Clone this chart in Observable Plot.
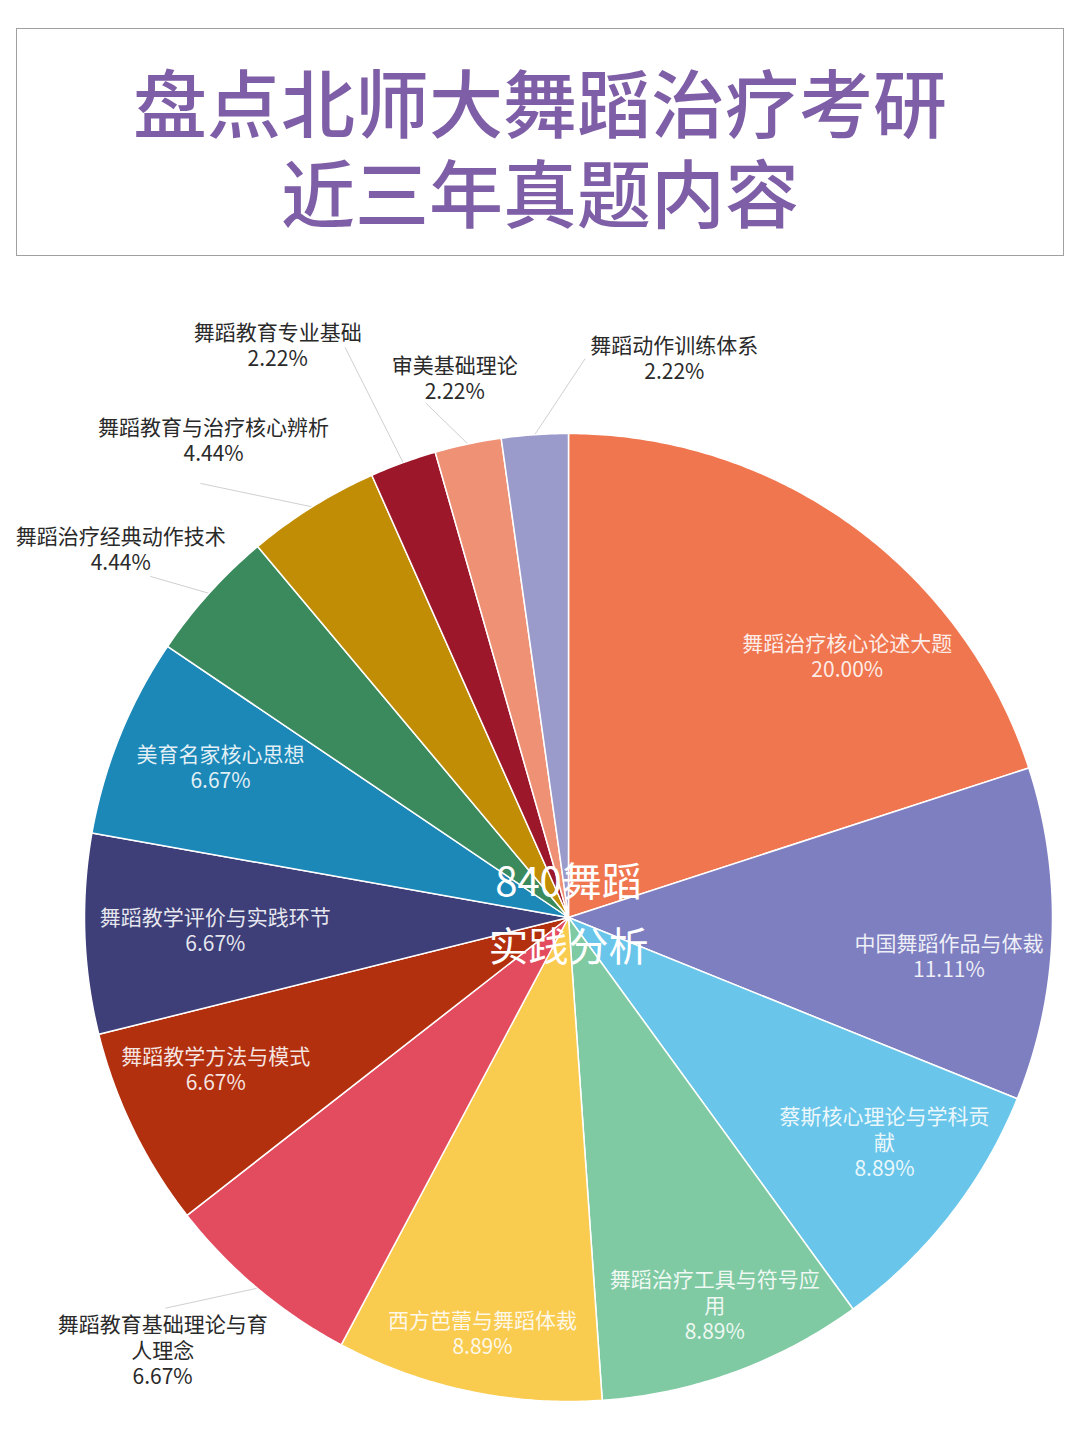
<!DOCTYPE html>
<html>
<head>
<meta charset="utf-8">
<script src="https://cdn.jsdelivr.net/npm/d3@7"></script>
<script src="https://cdn.jsdelivr.net/npm/@observablehq/plot@0.6"></script>
<style>
  html, body { margin: 0; padding: 0; background: #fff; width: 1080px; height: 1440px; overflow: hidden; }
  body { position: relative; font-family: "Noto Sans CJK SC", "Noto Sans", sans-serif; }
  #title {
    position: absolute; left: 16px; top: 28px; width: 1046px; height: 226px;
    border: 1.5px solid #a0a0a0; box-sizing: content-box;
    text-align: center; color: #7e5ea6; font-weight: 500;
    font-size: 74px; line-height: 90px;
  }
  #title .inner { position: absolute; left: 0; right: 0; top: 26px; }
  #chart { position: absolute; left: 0; top: 270px; }
</style>
</head>
<body>
<div id="title"><div class="inner">盘点北师大舞蹈治疗考研<br>近三年真题内容</div></div>
<div id="chart"></div>
<script>
// ---- data ----
const categories = [
  "舞蹈治疗核心论述大题",
  "中国舞蹈作品与体裁",
  "蔡斯核心理论与学科贡献",
  "舞蹈治疗工具与符号应用",
  "西方芭蕾与舞蹈体裁",
  "舞蹈教育基础理论与育人理念",
  "舞蹈教学方法与模式",
  "舞蹈教学评价与实践环节",
  "美育名家核心思想",
  "舞蹈治疗经典动作技术",
  "舞蹈教育与治疗核心辨析",
  "舞蹈教育专业基础",
  "审美基础理论",
  "舞蹈动作训练体系"
];
const percents = [20.00, 11.11, 8.89, 8.89, 8.89, 6.67, 6.67, 6.67, 6.67, 4.44, 4.44, 2.22, 2.22, 2.22];
const sliceColors = [
  "#f07650", "#7e7fc1", "#69c6ea", "#80caa3", "#f9cb4f", "#e34b5f", "#b3300f",
  "#3e3f79", "#1b88b8", "#3b8a5e", "#c18d05", "#9d172a", "#ee9174", "#9a9bcb"
];
const centerLabel = "840舞蹈\n实践分析";

// ---- label layout (polar: angle in degrees clockwise from top, radius as fraction of pie radius) ----
const labelInside = [true, true, true, true, true, false, true, true, true, false, false, false, false, false];
const labelWrapAt = [0, 0, 10, 10, 0, 10, 0, 0, 0, 0, 0, 0, 0, 0];
const labelAngle = [46.8, 95.7, 125.3, 159.3, 191.7, 223.2, 246.8, 268.1, 293.5, 309.5, 323.4, 333.1, 348.1, 10.7];
const labelRadius = [0.79, 0.79, 0.80, 0.855, 0.876, 1.225, 0.793, 0.73, 0.784, 1.199, 1.23, 1.328, 1.14, 1.178];
const leaderEndAngle = [0, 0, 0, 0, 0, 225.9, 0, 0, 0, 309.2, 319.7, 338.6, 344.5, 1.7];
const leaderEndRadius = [0, 0, 0, 0, 0, 1.16, 0, 0, 0, 1.115, 1.176, 1.265, 1.103, 1.155];

// ---- geometry ----
const W = 1080, H = 1170;
const CX = 568, CY = 647, R = 484;
const rad = d => d * Math.PI / 180;
const polar = (a, r) => ({x: r * Math.sin(a), y: r * Math.cos(a)});

const rows = categories.map((name, i) => ({name, value: percents[i], i}));
const arcs = d3.pie().sort(null).value(d => d.value)(rows);

const polys = [];
for (const a of arcs) {
  const n = Math.max(8, Math.ceil((a.endAngle - a.startAngle) / rad(0.5)));
  polys.push({name: a.data.name, x: 0, y: 0});
  for (let k = 0; k <= n; k++) {
    const t = a.startAngle + (a.endAngle - a.startAngle) * k / n;
    polys.push({name: a.data.name, ...polar(t, 1)});
  }
  polys.push({name: a.data.name, x: 0, y: 0});
}

const wrap = (s, n) => {
  if (!n || s.length <= n) return s;
  const out = [];
  for (let k = 0; k < s.length; k += n) out.push(s.slice(k, k + n));
  return out.join("\n");
};

const labels = arcs.map((a, i) => ({
  ...polar(rad(labelAngle[i]), labelRadius[i]),
  inside: labelInside[i],
  text: wrap(a.data.name, labelWrapAt[i]) + "\n" + a.data.value.toFixed(2) + "%"
}));

const leaders = arcs.filter((a, i) => !labelInside[i]).map(a => {
  const i = a.data.i;
  const mid = (a.startAngle + a.endAngle) / 2;
  const s = polar(mid, 1.0);
  const e = polar(rad(leaderEndAngle[i]), leaderEndRadius[i]);
  return {x1: s.x, y1: s.y, x2: e.x, y2: e.y};
});

const font = "'Noto Sans CJK SC', 'Noto Sans', sans-serif";

const chart = Plot.plot({
  width: W, height: H, margin: 0,
  style: {fontFamily: font, background: "white"},
  x: {domain: [-CX / R, (W - CX) / R], axis: null},
  y: {domain: [-(H - CY) / R, CY / R], axis: null},
  color: {domain: categories, range: sliceColors},
  marks: [
    Plot.link(leaders, {x1: "x1", y1: "y1", x2: "x2", y2: "y2", stroke: "#d0d0d0", strokeWidth: 1}),
    Plot.line(polys, {x: "x", y: "y", z: "name", fill: "name", stroke: "white", strokeWidth: 1.5, strokeLinejoin: "round", curve: "linear"}),
    Plot.text(labels.filter(d => d.inside), {x: "x", y: "y", text: "text", fill: "white", fillOpacity: 0.88, fontSize: 21, lineHeight: 1.24, fontFamily: font}),
    Plot.text(labels.filter(d => !d.inside), {x: "x", y: "y", text: "text", fill: "#2a2a2a", fontSize: 21, lineHeight: 1.24, fontFamily: font}),
    Plot.text([centerLabel], {x: () => 0, y: () => 0, text: d => d, dy: -10, fill: "white", fontSize: 40, lineHeight: 1.62, fontFamily: font})
  ]
});
document.getElementById("chart").appendChild(chart);
</script>
</body>
</html>
